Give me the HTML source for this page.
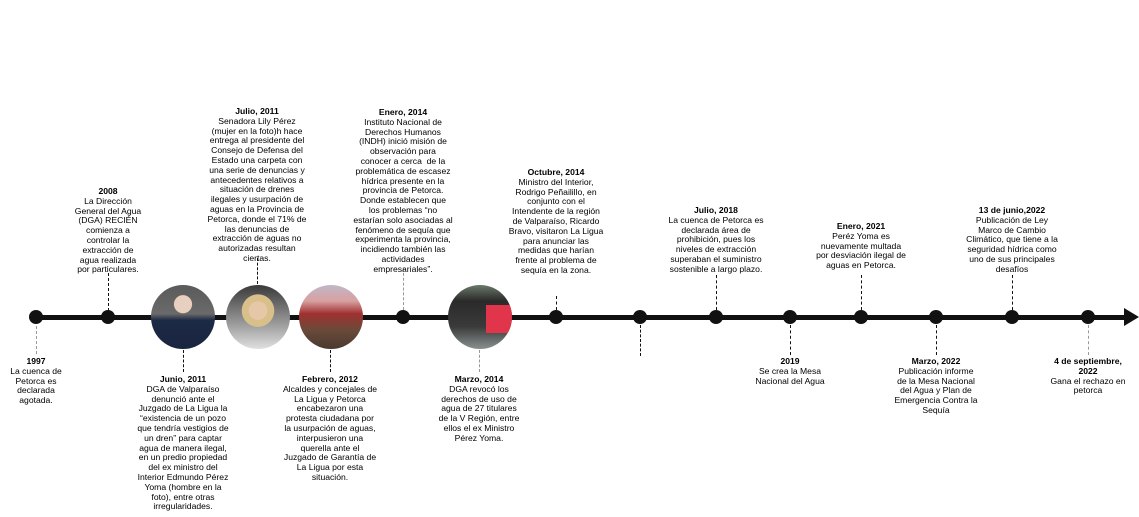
<!DOCTYPE html>
<html><head><meta charset="utf-8"><style>
body{margin:0;width:1139px;height:517px;background:#fff;position:relative;overflow:hidden;font-family:"Liberation Sans",sans-serif;}
.t{position:absolute;width:150px;margin-left:-75px;text-align:center;font-size:8.6px;line-height:9.8px;color:#000;}
.t b{font-weight:bold;}
.line{position:absolute;left:30px;top:315px;width:1098px;height:5px;background:#111;}
.arrow{position:absolute;left:1124px;top:308px;width:0;height:0;border-top:9.5px solid transparent;border-bottom:9.5px solid transparent;border-left:15px solid #111;}
.dot{position:absolute;width:14px;height:14px;border-radius:50%;background:#111;margin:-7px 0 0 -7px;top:317px;}
.d{position:absolute;width:0;border-left:1.5px dashed #111;}
.g{border-left-color:#999;}
.ph{position:absolute;width:64px;height:64px;border-radius:50%;margin:-32px 0 0 -32px;top:317px;overflow:hidden;}
</style></head><body>
<div class="line"></div><div class="arrow"></div>
<div class="dot" style="left:36px"></div>
<div class="dot" style="left:108px"></div>
<div class="dot" style="left:403px"></div>
<div class="dot" style="left:556px"></div>
<div class="dot" style="left:640px"></div>
<div class="dot" style="left:716px"></div>
<div class="dot" style="left:790px"></div>
<div class="dot" style="left:861px"></div>
<div class="dot" style="left:936px"></div>
<div class="dot" style="left:1012px"></div>
<div class="dot" style="left:1088px"></div>

<div class="ph" style="left:183px;background:radial-gradient(circle at 50% 30%,#e8d0c0 0 16%,transparent 17%),linear-gradient(#5a5a5a 0,#6a6a6a 45%,#1d2a45 55%,#1a2540 100%);"></div>
<div class="ph" style="left:258px;background:radial-gradient(circle at 50% 40%,#e6c8a8 0 18%,#d9c08a 19% 32%,transparent 33%),linear-gradient(#3a3a3a,#9a9a9a 60%,#e0e0e0);"></div>
<div class="ph" style="left:331px;background:linear-gradient(#c0b8c8 0,#d8a0a0 25%,#a03030 45%,#6a4a3a 70%,#4a3a30 100%);"></div>
<div class="ph" style="left:480px;background:linear-gradient(#6a7a6a 0,#2a2a2a 25%,#3a3a3a 65%,#8a9090 100%);">
<div style="position:absolute;left:38px;top:20px;width:32px;height:28px;background:#e0354a"></div></div>

<div class="d g" style="left:36px;top:326px;height:28px"></div>
<div class="d" style="left:108px;top:273px;height:38px"></div>
<div class="d" style="left:183px;top:350px;height:22px"></div>
<div class="d" style="left:257px;top:258px;height:26px"></div>
<div class="d" style="left:330px;top:350px;height:22px"></div>
<div class="d g" style="left:403px;top:268px;height:42px"></div>
<div class="d g" style="left:479px;top:350px;height:22px"></div>
<div class="d" style="left:556px;top:296px;height:14px"></div>
<div class="d" style="left:640px;top:325px;height:31px"></div>
<div class="d" style="left:716px;top:275px;height:35px"></div>
<div class="d" style="left:790px;top:325px;height:30px"></div>
<div class="d" style="left:861px;top:275px;height:35px"></div>
<div class="d" style="left:936px;top:325px;height:30px"></div>
<div class="d" style="left:1012px;top:275px;height:35px"></div>
<div class="d g" style="left:1088px;top:325px;height:30px"></div>

<div class="t" style="left:36px;top:357px;width:70px;margin-left:-35px"><b>1997</b><br>La cuenca de<br>Petorca es<br>declarada<br>agotada.</div>
<div class="t" style="left:108px;top:187px;width:80px;margin-left:-40px"><b>2008</b><br>La Dirección<br>General del Agua<br>(DGA) RECIÉN<br>comienza a<br>controlar la<br>extracción de<br>agua realizada<br>por particulares.</div>
<div class="t" style="left:183px;top:375px"><b>Junio, 2011</b><br>DGA de Valparaíso<br>denunció ante el<br>Juzgado de La Ligua la<br>“existencia de un pozo<br>que tendría vestigios de<br>un dren” para captar<br>agua de manera ilegal,<br>en un predio propiedad<br>del ex ministro del<br>Interior Edmundo Pérez<br>Yoma (hombre en la<br>foto), entre otras<br>irregularidades.</div>
<div class="t" style="left:257px;top:107px"><b>Julio, 2011</b><br>Senadora Lily Pérez<br>(mujer en la foto)h hace<br>entrega al presidente del<br>Consejo de Defensa del<br>Estado una carpeta con<br>una serie de denuncias y<br>antecedentes relativos a<br>situación de drenes<br>ilegales y usurpación de<br>aguas en la Provincia de<br>Petorca, donde el 71% de<br>las denuncias de<br>extracción de aguas no<br>autorizadas resultan<br>ciertas.</div>
<div class="t" style="left:330px;top:375px"><b>Febrero, 2012</b><br>Alcaldes y concejales de<br>La Ligua y Petorca<br>encabezaron una<br>protesta ciudadana por<br>la usurpación de aguas,<br>interpusieron una<br>querella ante el<br>Juzgado de Garantía de<br>La Ligua por esta<br>situación.</div>
<div class="t" style="left:403px;top:108px"><b>Enero, 2014</b><br>Instituto Nacional de<br>Derechos Humanos<br>(INDH) inició misión de<br>observación para<br>conocer a cerca &nbsp;de la<br>problemática de escasez<br>hídrica presente en la<br>provincia de Petorca.<br>Donde establecen que<br>los problemas “no<br>estarían solo asociadas al<br>fenómeno de sequía que<br>experimenta la provincia,<br>incidiendo también las<br>actividades<br>empresariales”.</div>
<div class="t" style="left:479px;top:375px"><b>Marzo, 2014</b><br>DGA revocó los<br>derechos de uso de<br>agua de 27 titulares<br>de la V Región, entre<br>ellos el ex Ministro<br>Pérez Yoma.</div>
<div class="t" style="left:556px;top:168px"><b>Octubre, 2014</b><br>Ministro del Interior,<br>Rodrigo Peñailillo, en<br>conjunto con el<br>Intendente de la región<br>de Valparaíso, Ricardo<br>Bravo, visitaron La Ligua<br>para anunciar las<br>medidas que harían<br>frente al problema de<br>sequía en la zona.</div>
<div class="t" style="left:716px;top:206px"><b>Julio, 2018</b><br>La cuenca de Petorca es<br>declarada área de<br>prohibición, pues los<br>niveles de extracción<br>superaban el suministro<br>sostenible a largo plazo.</div>
<div class="t" style="left:790px;top:357px"><b>2019</b><br>Se crea la Mesa<br>Nacional del Agua</div>
<div class="t" style="left:861px;top:222px"><b>Enero, 2021</b><br>Peréz Yoma es<br>nuevamente multada<br>por desviación ilegal de<br>aguas en Petorca.</div>
<div class="t" style="left:936px;top:357px"><b>Marzo, 2022</b><br>Publicación informe<br>de la Mesa Nacional<br>del Agua y Plan de<br>Emergencia Contra la<br>Sequía</div>
<div class="t" style="left:1012px;top:206px"><b>13 de junio,2022</b><br>Publicación de Ley<br>Marco de Cambio<br>Climático, que tiene a la<br>seguridad hídrica como<br>uno de sus principales<br>desafíos</div>
<div class="t" style="left:1088px;top:357px"><b>4 de septiembre,<br>2022</b><br>Gana el rechazo en<br>petorca</div>
</body></html>
